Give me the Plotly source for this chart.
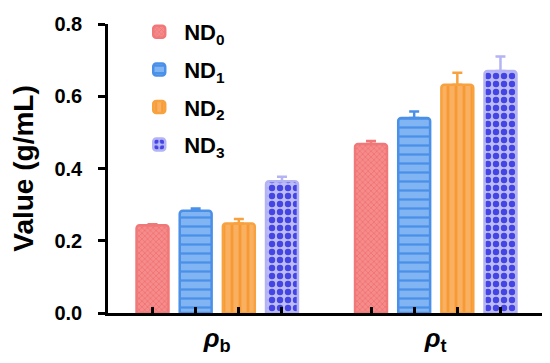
import plotly.graph_objects as go

categories = ["ρ", "ρ"]
category_subs = ["b", "t"]
series_names = ["ND<sub>0</sub>", "ND<sub>1</sub>", "ND<sub>2</sub>", "ND<sub>3</sub>"]
nd0 = [0.243, 0.468]
nd1 = [0.283, 0.540]
nd2 = [0.248, 0.632]
nd3 = [0.365, 0.670]
nd0_err = [0.003, 0.008]
nd1_err = [0.006, 0.018]
nd2_err = [0.012, 0.033]
nd3_err = [0.012, 0.040]
y_ticks = [0.0, 0.2, 0.4, 0.6, 0.8]

values = [nd0, nd1, nd2, nd3]
errors = [nd0_err, nd1_err, nd2_err, nd3_err]

styles = [
    dict(bg="#f58c8c", fg="#f06a6a", line="#f07878", shape="x", size=4, sol=0.3),
    dict(bg="#80b4f2", fg="#4a90e8", line="#4a90e8", shape="-", size=9, sol=0.25),
    dict(bg="#f9b060", fg="#f79a35", line="#f8a23f", shape="|", size=8, sol=0.35),
    dict(bg="#bcbcf8", fg="#4545e6", line="#b4b4f4", shape=".", size=8, sol=0.5),
]

font_family = "Liberation Sans, Arial, sans-serif"
fig = go.Figure()
for k, (name, vals, errs, st) in enumerate(zip(series_names, values, errors, styles)):
    fig.add_trace(go.Bar(
        x=[0, 1], y=vals, name=name, legendgroup="g%d" % k,
        marker=dict(color=st["bg"],
                    line=dict(color=st["line"], width=2.5),
                    pattern=dict(shape=st["shape"], fgcolor=st["fg"], bgcolor=st["bg"],
                                 size=st["size"], solidity=st["sol"], fillmode="replace")),
        error_y=dict(type="data", array=errs, arrayminus=[0] * len(errs), symmetric=False,
                     color=st["line"], thickness=2.5, width=5),
    ))

# tick marks at each bar centre (axis decoration)
n = len(series_names)
bargap = 0.21
slot = (1 - bargap) / n
tick_positions = [g - (1 - bargap) / 2 + slot * (i + 0.5) for g in range(len(categories)) for i in range(n)]

fig.update_layout(
    width=550, height=363,
    margin=dict(l=100, r=13, t=16, b=58, autoexpand=False),
    paper_bgcolor="white", plot_bgcolor="white",
    barmode="group", bargap=bargap, bargroupgap=0.26,
    barcornerradius=3,
    font=dict(family=font_family, color="black"),
    showlegend=True,
    legend=dict(x=0.06, y=1.045, xanchor="left", yanchor="top",
                font=dict(size=22, family=font_family, color="black", weight="bold"),
                tracegroupgap=6, itemwidth=40, bgcolor="rgba(0,0,0,0)"),
    xaxis=dict(range=[-0.5, 1.5], tickvals=[0, 1],
               ticktext=["<b><i>%s</i><sub>%s</sub></b>" % (c, s) for c, s in zip(categories, category_subs)],
               ticks="", showline=True, linecolor="black", linewidth=2.5,
               tickfont=dict(size=26, family=font_family), showgrid=False, zeroline=False),
    xaxis2=dict(range=[-0.5, 1.5], overlaying="x", anchor="y", side="bottom",
                tickvals=tick_positions, ticks="inside", ticklen=6, tickwidth=2.5, tickcolor="black",
                showticklabels=False, showgrid=False, zeroline=False, showline=False),
    yaxis=dict(range=[0, 0.8], tickvals=y_ticks, ticktext=["%.1f" % v for v in y_ticks],
               ticks="outside", ticklen=7, tickwidth=2.5, tickcolor="black", ticklabelstandoff=12,
               showline=True, linecolor="black", linewidth=2.5, showgrid=False, zeroline=False,
               tickfont=dict(size=20, family=font_family, weight="bold"),
               title=dict(text="<b>Value (g/mL)</b>", font=dict(size=28, family=font_family), standoff=16)),
)
# invisible trace to activate xaxis2
fig.add_trace(go.Scatter(x=tick_positions, y=[None] * len(tick_positions), xaxis="x2",
                         showlegend=False, hoverinfo="skip"))
fig.write_html("out.html")
